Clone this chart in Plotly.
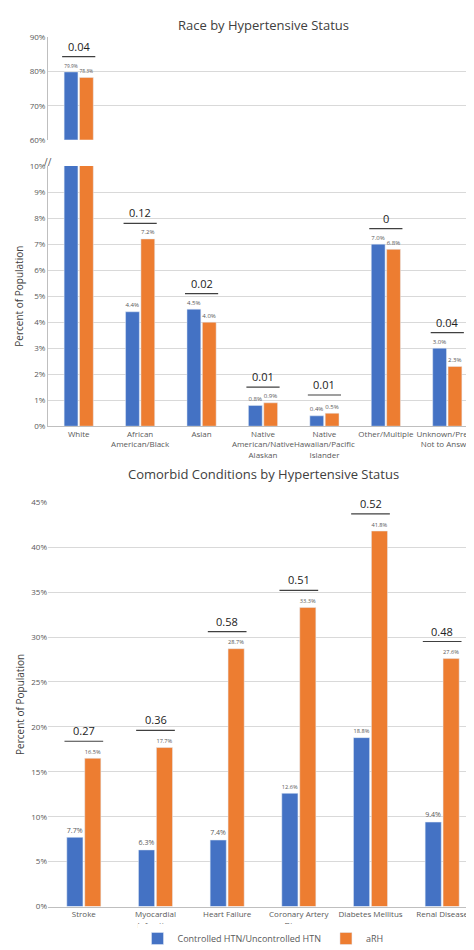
import plotly.graph_objects as go

race_cats = ["White", "African<br>American/Black", "Asian", "Native<br>American/Native<br>Alaskan",
             "Native<br>Hawaiian/Pacific<br>Islander", "Other/Multiple", "Unknown/Prefer<br>Not to Answer"]
race_ctrl = [79.9, 4.4, 4.5, 0.8, 0.4, 7.0, 3.0]
race_arh = [78.3, 7.2, 4.0, 0.9, 0.5, 6.8, 2.3]
race_p = ["0.04", "0.12", "0.02", "0.01", "0.01", "0", "0.04"]
race_bracket = [84.4, 7.8, 5.1, 1.5, 1.2, 7.6, 3.6]

com_cats = ["Stroke", "Myocardial<br>Infarction", "Heart Failure", "Coronary Artery<br>Disease",
            "Diabetes Mellitus", "Renal Disease"]
com_ctrl = [7.7, 6.3, 7.4, 12.6, 18.8, 9.4]
com_arh = [16.5, 17.7, 28.7, 33.3, 41.8, 27.6]
com_p = ["0.27", "0.36", "0.58", "0.51", "0.52", "0.48"]
com_bracket = [18.4, 19.6, 30.6, 35.2, 43.7, 29.5]

BLUE, ORANGE = "#4472C4", "#ED7D31"
GREY = "#595959"
FONT = "Open Sans"
fig = go.Figure()
xr = list(range(len(race_cats)))
xc = list(range(len(com_cats)))

def lbl(v, keep):
    return [f"{x:.1f}%" if k else "" for x, k in zip(v, keep)]

top_keep = [i == 0 for i in xr]
mid_keep = [i != 0 for i in xr]
for vals, col, name in [(race_ctrl, BLUE, "Controlled HTN/Uncontrolled HTN"), (race_arh, ORANGE, "aRH")]:
    fig.add_trace(go.Bar(x=xr, y=vals, marker_color=col, xaxis="x", yaxis="y", showlegend=False,
                         text=lbl(vals, top_keep), textposition="outside", cliponaxis=False,
                         textfont=dict(size=8, color=GREY), name=name))
    fig.add_trace(go.Bar(x=xr, y=vals, marker_color=col, xaxis="x2", yaxis="y2", showlegend=False,
                         text=lbl(vals, mid_keep), textposition="outside", cliponaxis=True,
                         textfont=dict(size=8, color=GREY), name=name))
for vals, col, name in [(com_ctrl, BLUE, "Controlled HTN/Uncontrolled HTN"), (com_arh, ORANGE, "aRH")]:
    fig.add_trace(go.Bar(x=xc, y=vals, marker_color=col, xaxis="x3", yaxis="y3", name=name,
                         text=lbl(vals, [True] * len(vals)), textposition="outside", cliponaxis=False,
                         textfont=dict(size=8, color=GREY)))

def bracket(xa, ya, x, y, p):
    fig.add_shape(type="line", xref=xa, yref=ya, x0=x - 0.27, x1=x + 0.27, y0=y, y1=y,
                  line=dict(color="#404040", width=1.2))
    fig.add_annotation(xref=xa, yref=ya, x=x, y=y, yshift=1, text=p, showarrow=False,
                       font=dict(size=11, color="#222", family=FONT), yanchor="bottom")

for i in xr:
    if i == 0:
        bracket("x", "y", i, race_bracket[i], race_p[i])
    else:
        bracket("x2", "y2", i, race_bracket[i], race_p[i])
for i in xc:
    bracket("x3", "y3", i, com_bracket[i], com_p[i])

ax = dict(showgrid=False, showline=True, linecolor="#bfbfbf", tickfont=dict(size=8, color=GREY, family=FONT),
          range=[-0.5, len(race_cats) - 0.5], ticks="", tickangle=0)
yax = dict(showgrid=True, gridcolor="#d9d9d9", zeroline=False, ticksuffix="%",
           tickfont=dict(size=8, color=GREY, family=FONT), showline=False)
fig.update_layout(
    width=474, height=950, margin=dict(l=40, r=4, t=0, b=0),
    plot_bgcolor="white", paper_bgcolor="white",
    barmode="group", bargap=0.5, bargroupgap=0.1,
    font=dict(family=FONT, color=GREY),
    xaxis=dict(ax, anchor="y", showticklabels=False, showline=False, domain=[0, 1]),
    xaxis2=dict(ax, anchor="y2", tickmode="array", tickvals=xr, ticktext=race_cats, domain=[0, 1]),
    xaxis3=dict(ax, anchor="y3", tickmode="array", tickvals=xc, ticktext=com_cats,
                range=[-0.5, len(com_cats) - 0.5], domain=[0, 1]),
    yaxis=dict(yax, domain=[0.866, 0.975], range=[60, 90], dtick=10, showline=True, linecolor="#bfbfbf"),
    yaxis2=dict(yax, domain=[0.561, 0.838], range=[0, 10], dtick=1, showline=True, linecolor="#bfbfbf",
                title=dict(text="Percent of Population", font=dict(size=10, color="#404040"), standoff=4)),
    yaxis3=dict(yax, domain=[0.0495, 0.48], range=[0, 45], dtick=5,
                title=dict(text="Percent of Population", font=dict(size=10, color="#404040"), standoff=4)),
    legend=dict(orientation="h", x=0.5, xanchor="center", y=0.0, yanchor="bottom",
                font=dict(size=9, color=GREY, family=FONT)),
)
fig.add_annotation(xref="paper", yref="paper", x=0.5, y=1.0, yanchor="top", text="Race by Hypertensive Status",
                   showarrow=False, font=dict(size=13, color="#404040", family=FONT))
fig.add_annotation(xref="paper", yref="paper", x=0.5, y=0.51, yanchor="middle",
                   text="Comorbid Conditions by Hypertensive Status",
                   showarrow=False, font=dict(size=13, color="#404040", family=FONT))
fig.add_annotation(xref="paper", yref="paper", x=0.0, y=0.852, xanchor="center", text="//",
                   showarrow=False, font=dict(size=10, color=GREY), textangle=0)
fig.write_html("out.html")
